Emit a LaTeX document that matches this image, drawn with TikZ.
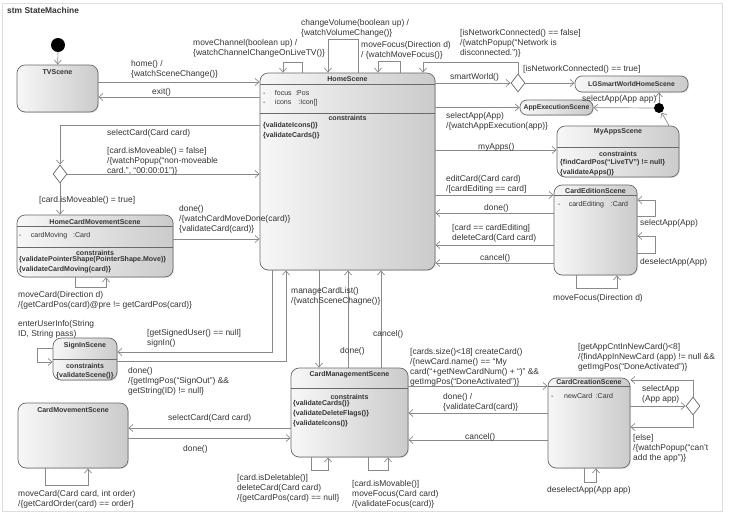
\documentclass[tikz,border=0pt]{standalone}
\usepackage{fontspec}
\setmainfont{Liberation Sans}
\definecolor{stateLight}{HTML}{F7F7F7}
\definecolor{stateDark}{HTML}{CBCBCB}
\definecolor{borderGray}{HTML}{6A6A6A}
\definecolor{lineGray}{HTML}{8A8A8A}
\definecolor{textPrimary}{HTML}{333333}
\definecolor{frameGray}{HTML}{DDDDDD}
\usetikzlibrary{arrows.meta, shapes.geometric, shadows}
\tikzset{
  stateBox/.style 2 args={draw=borderGray, line width=0.6pt, rounded corners=7pt,
    left color=stateLight, right color=stateDark, inner sep=0pt,
    minimum width=#1*0.03cm, minimum height=#2*0.03cm,
    drop shadow={shadow xshift=0.8pt, shadow yshift=-0.8pt, opacity=0.25}},
  pillBox/.style 2 args={stateBox={#1}{#2}, rounded corners=6pt,
    font=\bfseries\fontsize{5.8}{7}\selectfont, text=textPrimary},
  stateName/.style={font=\bfseries\fontsize{6}{7}\selectfont, text=textPrimary, inner sep=0pt},
  attrText/.style={font=\fontsize{6}{7}\selectfont, text=textPrimary, inner sep=0pt, anchor=west},
  constrText/.style={font=\bfseries\fontsize{6}{8.2}\selectfont, text=textPrimary, inner sep=0pt,
    align=left, anchor=north west},
  lbl/.style={font=\fontsize{7.2}{8.6}\selectfont, text=textPrimary, inner sep=0pt,
    align=left, anchor=north west},
  sepLine/.style={draw=borderGray, line width=0.5pt},
  tr/.style={draw=lineGray, line width=0.6pt, -{Straight Barb[length=3.5pt, width=6pt]}},
  choice/.style={diamond, draw=borderGray, line width=0.6pt, fill=white,
    minimum width=14*0.03cm, minimum height=18*0.03cm, inner sep=0pt},
  initDot/.style={circle, fill=black, minimum size=14*0.03cm, inner sep=0pt},
  junctionDot/.style={circle, fill=black, minimum size=10*0.03cm, inner sep=0pt}
}

\begin{document}
\begin{tikzpicture}[x=0.03cm, y=-0.03cm]
\useasboundingbox (0,0) rectangle (729,515);
\draw[frameGray, line width=0.6pt] (2,3) rectangle (722,511);
\node[stateName, font=\bfseries\fontsize{7.2}{8}\selectfont, anchor=west] (stmTitle) at (7,10) {stm StateMachine};

% states
\node[stateBox={81}{47}] (tvScene) at (57.5,88.5) {};
\node[stateBox={175}{197}] (homeScene) at (347.5,171.5) {};
\node[pillBox={113}{16}] (lgScene) at (631.5,84) {LGSmartWorldHomeScene};
\node[pillBox={73}{15}] (appExec) at (556.5,107.5) {AppExecutionScene};
\node[stateBox={122}{51}] (myApps) at (618,151.5) {};
\node[stateBox={83}{90}] (cardEdit) at (595.5,230) {};
\node[stateBox={156}{62}] (homeCardMove) at (95,246) {};
\node[stateBox={64}{42}] (signIn) at (85,359) {};
\node[stateBox={117}{89}] (cardManage) at (349.5,412.5) {};
\node[stateBox={110}{65}] (cardMove) at (73,435.5) {};
\node[stateBox={82}{90}] (cardCreate) at (589,423) {};

\node[initDot] (tvInit) at (58,45) {};
\node[choice] (netChoice) at (518,83) {};
\node[junctionDot] (appJunction) at (659,108) {};
\node[choice] (moveChoice) at (60,174) {};
\node[choice] (appChoice) at (693,406) {};

% compartments
\node[stateName] (tvName) at (57.5,72) {TVScene};

\node[stateName] (homeName) at (347.5,79) {HomeScene};
\draw[sepLine] (homeScene.west |- 0,84) -- (homeScene.east |- 0,84);
\node[attrText] (homeFocus) at (263,93) {-\hspace{8pt}focus\hspace{3pt}:Pos};
\node[attrText] (homeIcons) at (263,103) {-\hspace{8pt}icons\hspace{6pt}:Icon[]};
\draw[sepLine] (homeScene.west |- 0,113) -- (homeScene.east |- 0,113);
\node[stateName] (homeConstr) at (347.5,118) {constraints};
\node[constrText] (homeConstrList) at (263,122.5) {\{validateIcons()\}\\\{validateCards()\}};

\node[stateName] (myAppsName) at (618,132) {MyAppsScene};
\draw[sepLine] (myApps.west |- 0,147) -- (myApps.east |- 0,147);
\node[stateName] (myAppsConstr) at (618,154) {constraints};
\node[constrText] (myAppsConstrList) at (560,159.5) {\{findCardPos(``LiveTV'') != null\}\\\{validateApps()\}};

\node[stateName] (cardEditName) at (595.5,190.5) {CardEditionScene};
\draw[sepLine] (cardEdit.west |- 0,195) -- (cardEdit.east |- 0,195);
\node[attrText] (cardEditAttr) at (558,204.5) {-\hspace{7pt}cardEditing\hspace{6pt}:Card};

\node[stateName] (homeCardMoveName) at (95,221.5) {HomeCardMovementScene};
\draw[sepLine] (homeCardMove.west |- 0,226) -- (homeCardMove.east |- 0,226);
\node[attrText] (homeCardMoveAttr) at (19,236) {-\hspace{8pt}cardMoving\hspace{5pt}:Card};
\draw[sepLine] (homeCardMove.west |- 0,247) -- (homeCardMove.east |- 0,247);
\node[stateName] (homeCardMoveConstr) at (95,252.5) {constraints};
\node[constrText] (homeCardMoveConstrList) at (19,256.5) {\{validatePointerShape(PointerShape.Move)\}\\\{validateCardMoving(card)\}};

\node[stateName] (signInName) at (85,346) {SignInScene};
\draw[sepLine] (signIn.west |- 0,359) -- (signIn.east |- 0,359);
\node[stateName] (signInConstr) at (85,366) {constraints};
\node[stateName] (signInConstrList) at (85,375.5) {\{validateScene()\}};

\node[stateName] (cardManageName) at (349.5,375) {CardManagementScene};
\draw[sepLine] (cardManage.west |- 0,388) -- (cardManage.east |- 0,388);
\node[stateName] (cardManageConstr) at (349.5,397) {constraints};
\node[constrText] (cardManageConstrList) at (293,400.5) {\{validateCards()\}\\\{validateDeleteFlags()\}\\\{validateIcons()\}};

\node[stateName] (cardMoveName) at (73,409.5) {CardMovementScene};

\node[stateName] (cardCreateName) at (589,382) {CardCreationScene};
\draw[sepLine] (cardCreate.west |- 0,386) -- (cardCreate.east |- 0,386);
\node[attrText] (cardCreateAttr) at (551,396) {-\hspace{9pt}newCard\hspace{3pt}:Card};

% transitions
\draw[tr] (tvInit) -- (tvScene);
\draw[tr] (tvScene.east |- 0,82) -- (homeScene.west |- 0,82);
\draw[tr] (homeScene.west |- 0,97) -- (tvScene.east |- 0,97);
\draw[tr] (homeScene.north -| 302,0) -- ++(0,-10) -| (homeScene.north -| 283,0);
\draw[tr] (homeScene.north -| 358,0) -- ++(0,-33) -| (homeScene.north -| 328,0);
\draw[tr] (homeScene.north -| 400,0) -- ++(0,-11) -| (homeScene.north -| 378,0);
\draw[tr] (netChoice.north) -- (netChoice.north |- 0,62) -| (homeScene.north -| 423,0);
\draw[tr] (homeScene.east |- netChoice) -- (netChoice.west);
\draw[tr] (netChoice.east) -- (lgScene.west |- netChoice);
\draw[tr] (appJunction.north) -- (appJunction |- lgScene.south);
\draw[tr] (appJunction) -- (appExec);
\draw[tr] (myApps.north -| 669,0) -- (appJunction);
\draw[tr] (homeScene.east |- appExec) -- (appExec.west);
\draw[tr] (homeScene.east |- 0,150) -- (myApps.west |- 0,150);
\draw[tr] (homeScene.east |- 0,195) -- (cardEdit.west |- 0,195);
\draw[tr] (cardEdit.west |- 0,213) -- (homeScene.east |- 0,213);
\draw[tr] (cardEdit.west |- 0,245) -- (homeScene.east |- 0,245);
\draw[tr] (cardEdit.west |- 0,263) -- (homeScene.east |- 0,263);
\draw[tr] (cardEdit.east |- 0,216) -- ++(18,0) |- (cardEdit.east |- 0,200);
\draw[tr] (cardEdit.east |- 0,253) -- ++(18,0) |- (cardEdit.east |- 0,236);
\draw[tr] (cardEdit.south -| 576,0) -- ++(0,13) -| (cardEdit.south -| 617,0);
\draw[tr] (homeScene.west |- 0,125) -| (moveChoice.north);
\draw[tr] (moveChoice.east) -- (homeScene.west |- moveChoice.east);
\draw[tr] (moveChoice.south) -- (moveChoice |- homeCardMove.north);
\draw[tr] (homeCardMove.south -| 75,0) -- ++(0,10) -| (homeCardMove.south -| 106,0);
\draw[tr] (homeCardMove.east |- 0,239) -- (homeScene.west |- 0,239);
\draw[tr] (homeScene.south -| 272,0) |- (signIn.east |- 0,352);
\draw[tr] (signIn.east |- 0,361) -| (homeScene.south -| 286,0);
\draw[tr] (signIn.west |- 0,348) -- ++(-15,0) |- (signIn.west |- 0,362);
\draw[tr] (homeScene.south -| 319,0) -- (cardManage.north -| 319,0);
\draw[tr] (cardManage.north -| 348,0) -- (homeScene.south -| 348,0);
\draw[tr] (cardManage.north -| 381,0) -- (homeScene.south -| 381,0);
\draw[tr] (cardManage.south -| 311,0) -- ++(0,13) -| (cardManage.south -| 328,0);
\draw[tr] (cardManage.south -| 368,0) -- ++(0,13) -| (cardManage.south -| 388,0);
\draw[tr] (cardManage.west |- 0,428) -- (cardMove.east |- 0,428);
\draw[tr] (cardMove.east |- 0,438) -- (cardManage.west |- 0,438);
\draw[tr] (cardMove.south -| 45,0) -- ++(0,17) -| (cardMove.south -| 88,0);
\draw[tr] (cardManage.east |- 0,386) -- (cardCreate.west |- 0,386);
\draw[tr] (cardCreate.west |- 0,413) -- (cardManage.east |- 0,413);
\draw[tr] (cardCreate.west |- 0,440) -- (cardManage.east |- 0,440);
\draw[tr] (cardCreate.east |- appChoice) -- (appChoice.west);
\draw[tr] (appChoice.north) |- (cardCreate.east |- 0,380);
\draw[tr] (appChoice.south) |- (cardCreate.east |- 0,427);
\draw[tr] (cardCreate.south -| 584,0) -- ++(0,14) -| (cardCreate.south -| 596,0);

% labels
\node[lbl] (lblHome) at (131,60) {home() /\\\{watchSceneChange()\}};
\node[lbl] (lblExit) at (152,88) {exit()};
\node[lbl] (lblChannel) at (193,39) {moveChannel(boolean up) /\\\{watchChannelChangeOnLiveTV()\}};
\node[lbl] (lblVolume) at (301,19) {changeVolume(boolean up) /\\\{watchVolumeChange()\}};
\node[lbl] (lblFocus) at (361,41) {moveFocus(Direction d)\\/ \{watchMoveFocus()\}};
\node[lbl] (lblNetFalse) at (460,29) {[isNetworkConnected() == false]\\/\{watchPopup(``Network is\\disconnected.'')\}};
\node[lbl] (lblSmart) at (450,73) {smartWorld()};
\node[lbl] (lblNetTrue) at (523,65) {[isNetworkConnected() == true]};
\node[lbl] (lblJunction) at (582,95) {selectApp(App app)};
\node[lbl] (lblSelectApp) at (446,112) {selectApp(App)\\/\{watchAppExecution(app)\}};
\node[lbl] (lblMyApps) at (478,143) {myApps()};
\node[lbl] (lblEdit) at (446,175) {editCard(Card card)\\/[cardEditing == card]};
\node[lbl] (lblEditDone) at (484,204) {done()};
\node[lbl] (lblDelete) at (452,224) {[card == cardEditing]\\deleteCard(Card card)};
\node[lbl] (lblEditCancel) at (480,254) {cancel()};
\node[lbl] (lblEditSel) at (640,219) {selectApp(App)};
\node[lbl] (lblEditDesel) at (640,258) {deselectApp(App)};
\node[lbl] (lblEditFocus) at (553,294) {moveFocus(Direction d)};
\node[lbl] (lblSelectCard) at (107,129) {selectCard(Card card)};
\node[lbl] (lblMoveFalse) at (107,147) {[card.isMoveable() = false]\\/\{watchPopup(``non-moveable\\card.'', ``00:00:01'')\}};
\node[lbl] (lblMoveTrue) at (39,196) {[card.isMoveable() = true]};
\node[lbl] (lblMoveDone) at (179,205) {done()\\/\{watchCardMoveDone(card)\}\\\{validateCard(card)\}};
\node[lbl] (lblMoveCard) at (18,291) {moveCard(Direction d)\\/\{getCardPos(card)@pre != getCardPos(card)\}};
\node[lbl] (lblUserInfo) at (18,320) {enterUserInfo(String\\ID, String pass)};
\node[lbl] (lblSignIn) at (147,329) {[getSignedUser() == null]\\signIn()};
\node[lbl] (lblSignDone) at (128,367) {done()\\/\{getImgPos(``SignOut'') \&\&\\getString(ID) != null\}};
\node[lbl] (lblManage) at (291,287) {manageCardList()\\/\{watchSceneChagne()\}};
\node[lbl] (lblManageDone) at (340,347) {done()};
\node[lbl] (lblManageCancel) at (373,330) {cancel()};
\node[lbl] (lblSelectCardB) at (168,414) {selectCard(Card card)};
\node[lbl] (lblMoveDoneB) at (183,445) {done()};
\node[lbl] (lblMoveCardB) at (18,490) {moveCard(Card card, int order)\\/\{getCardOrder(card) == order\}};
\node[lbl] (lblDeletable) at (237,474) {[card.isDeletable()]\\deleteCard(Card card)\\/\{getCardPos(card) == null\}};
\node[lbl] (lblMovable) at (352,480) {[card.isMovable()]\\moveFocus(Card card)\\/\{validateFocus(card)\}};
\node[lbl] (lblCreate) at (410,348) {[cards.size()<18] createCard()\\/\{newCard.name() == ``My\\card(``+getNewCardNum() + ``)'' \&\&\\getImgPos(``DoneActivated'')\}};
\node[lbl] (lblCreateDone) at (443,393) {done() /\\\{validateCard(card)\}};
\node[lbl] (lblCreateCancel) at (465,433) {cancel()};
\node[lbl] (lblAppCnt) at (578,343) {[getAppCntInNewCard()<8]\\/\{findAppInNewCard (app) != null \&\&\\getImgPos(``DoneActivated'')\}};
\node[lbl] (lblCreateSel) at (642,385) {selectApp\\(App app)};
\node[lbl] (lblElse) at (633,434) {[else]\\/\{watchPopup(``can't\\add the app'')\}};
\node[lbl] (lblCreateDesel) at (547,486) {deselectApp(App app)};
\end{tikzpicture}
\end{document}
